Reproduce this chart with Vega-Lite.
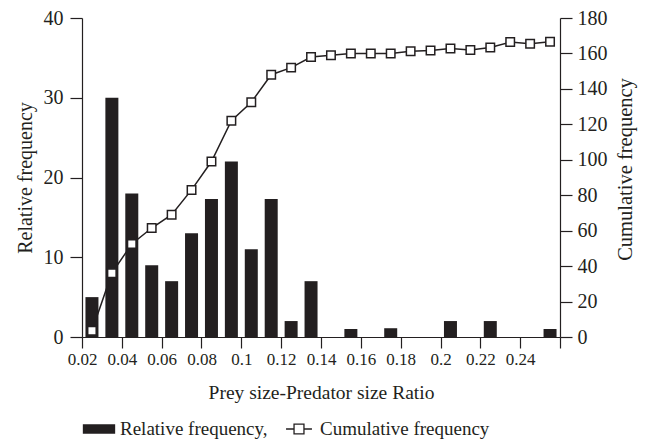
{
  "$schema": "https://vega.github.io/schema/vega-lite/v6.json",
  "width": 478,
  "height": 319,
  "autosize": {"type": "none"},
  "padding": {"left": 82, "top": 18, "right": 86, "bottom": 104},
  "background": "white",
  "config": {
    "view": {"stroke": null},
    "font": "Liberation Serif",
    "axis": {
      "domainColor": "#231f20",
      "tickColor": "#231f20",
      "labelColor": "#231f20",
      "titleColor": "#231f20",
      "domainWidth": 1.2,
      "tickWidth": 1.2,
      "grid": false,
      "labelFont": "Liberation Serif",
      "titleFont": "Liberation Serif",
      "titleFontWeight": "normal"
    },
    "legend": {
      "labelFont": "Liberation Serif",
      "labelFontSize": 19,
      "labelColor": "#231f20",
      "labelLimit": 400
    }
  },
  "data": {
    "values": [
      {"ratio": 0.025, "relative": 5, "cumulative": 3.5},
      {"ratio": 0.035, "relative": 30, "cumulative": 36},
      {"ratio": 0.045, "relative": 18, "cumulative": 52.5},
      {"ratio": 0.055, "relative": 9, "cumulative": 61.5},
      {"ratio": 0.065, "relative": 7, "cumulative": 69},
      {"ratio": 0.075, "relative": 13, "cumulative": 83},
      {"ratio": 0.085, "relative": 17.3, "cumulative": 99},
      {"ratio": 0.095, "relative": 22, "cumulative": 122},
      {"ratio": 0.105, "relative": 11, "cumulative": 132.5},
      {"ratio": 0.115, "relative": 17.3, "cumulative": 148},
      {"ratio": 0.125, "relative": 2, "cumulative": 152},
      {"ratio": 0.135, "relative": 7, "cumulative": 158},
      {"ratio": 0.145, "relative": 0, "cumulative": 159},
      {"ratio": 0.155, "relative": 1, "cumulative": 160},
      {"ratio": 0.165, "relative": 0, "cumulative": 160},
      {"ratio": 0.175, "relative": 1.1, "cumulative": 160},
      {"ratio": 0.185, "relative": 0, "cumulative": 161.3},
      {"ratio": 0.195, "relative": 0, "cumulative": 161.7},
      {"ratio": 0.205, "relative": 2, "cumulative": 162.8},
      {"ratio": 0.215, "relative": 0, "cumulative": 161.9},
      {"ratio": 0.225, "relative": 2, "cumulative": 163.4},
      {"ratio": 0.235, "relative": 0, "cumulative": 166.4},
      {"ratio": 0.245, "relative": 0, "cumulative": 165.5},
      {"ratio": 0.255, "relative": 1, "cumulative": 166.6}
    ]
  },
  "encoding": {
    "x": {
      "field": "ratio",
      "type": "quantitative",
      "scale": {"domain": [0.02, 0.26], "nice": false, "zero": false, "padding": 0},
      "axis": {
        "title": "Prey size-Predator size Ratio",
        "values": [0.02, 0.04, 0.06, 0.08, 0.1, 0.12, 0.14, 0.16, 0.18, 0.2, 0.22, 0.24, 0.26],
        "labelExpr": "datum.value > 0.25 ? '' : format(datum.value, '~g')",
        "tickSize": 11,
        "labelPadding": 3,
        "labelDx": 6,
        "labelFontSize": 17,
        "titleFontSize": 19.5,
        "titlePadding": 16,
        "labelFlush": false,
        "labelOverlap": false
      }
    }
  },
  "layer": [
    {
      "mark": {"type": "bar", "width": 13, "color": "#231f20"},
      "encoding": {
        "y": {
          "field": "relative",
          "type": "quantitative",
          "scale": {"domain": [0, 40], "nice": false},
          "axis": {
            "title": "Relative frequency",
            "values": [0, 10, 20, 30, 40],
            "tickSize": 12,
            "labelPadding": 7,
            "labelFontSize": 20,
            "titleFontSize": 20,
            "titlePadding": 8
          }
        }
      }
    },
    {
      "encoding": {
        "y": {
          "field": "cumulative",
          "type": "quantitative",
          "scale": {"domain": [0, 180], "nice": false},
          "axis": {
            "orient": "right",
            "title": "Cumulative frequency",
            "values": [0, 20, 40, 60, 80, 100, 120, 140, 160, 180],
            "tickSize": 12,
            "labelPadding": 5,
            "labelFontSize": 20,
            "titleFontSize": 20.5,
            "titleAngle": 270,
            "titleBaseline": "top",
            "titlePadding": 8,
            "titleY": 151
          }
        }
      },
      "layer": [
        {"mark": {"type": "line", "color": "#231f20", "strokeWidth": 1.5}},
        {
          "mark": {"type": "point", "shape": "square", "size": 72, "filled": true, "fill": "white", "stroke": "#231f20", "strokeWidth": 1.5, "opacity": 1}
        },
        {
          "mark": {"type": "point", "filled": true, "strokeWidth": 1.3, "opacity": 0},
          "encoding": {
            "shape": {
              "datum": "Cumulative frequency",
              "scale": {
                "domain": ["Relative frequency,", "Cumulative frequency"],
                "range": ["M-0.97,-0.25H0.97V0.25H-0.97Z", "M-0.81,0H-0.31M0.31,0H0.81M-0.31,-0.31H0.31V0.31H-0.31Z"]
              },
              "legend": {
                "orient": "bottom",
                "direction": "horizontal",
                "title": null,
                "symbolSize": 1024,
                "symbolOpacity": 1,
                "symbolStrokeWidth": 1.3,
                "labelOffset": 4,
                "columnPadding": 14,
                "offset": 10
              }
            },
            "fill": {
              "datum": "Cumulative frequency",
              "scale": {
                "domain": ["Relative frequency,", "Cumulative frequency"],
                "range": ["#231f20", "white"]
              }
            },
            "stroke": {
              "datum": "Cumulative frequency",
              "scale": {
                "domain": ["Relative frequency,", "Cumulative frequency"],
                "range": ["#231f20", "#231f20"]
              }
            }
          }
        }
      ]
    }
  ],
  "resolve": {"scale": {"y": "independent"}}
}
